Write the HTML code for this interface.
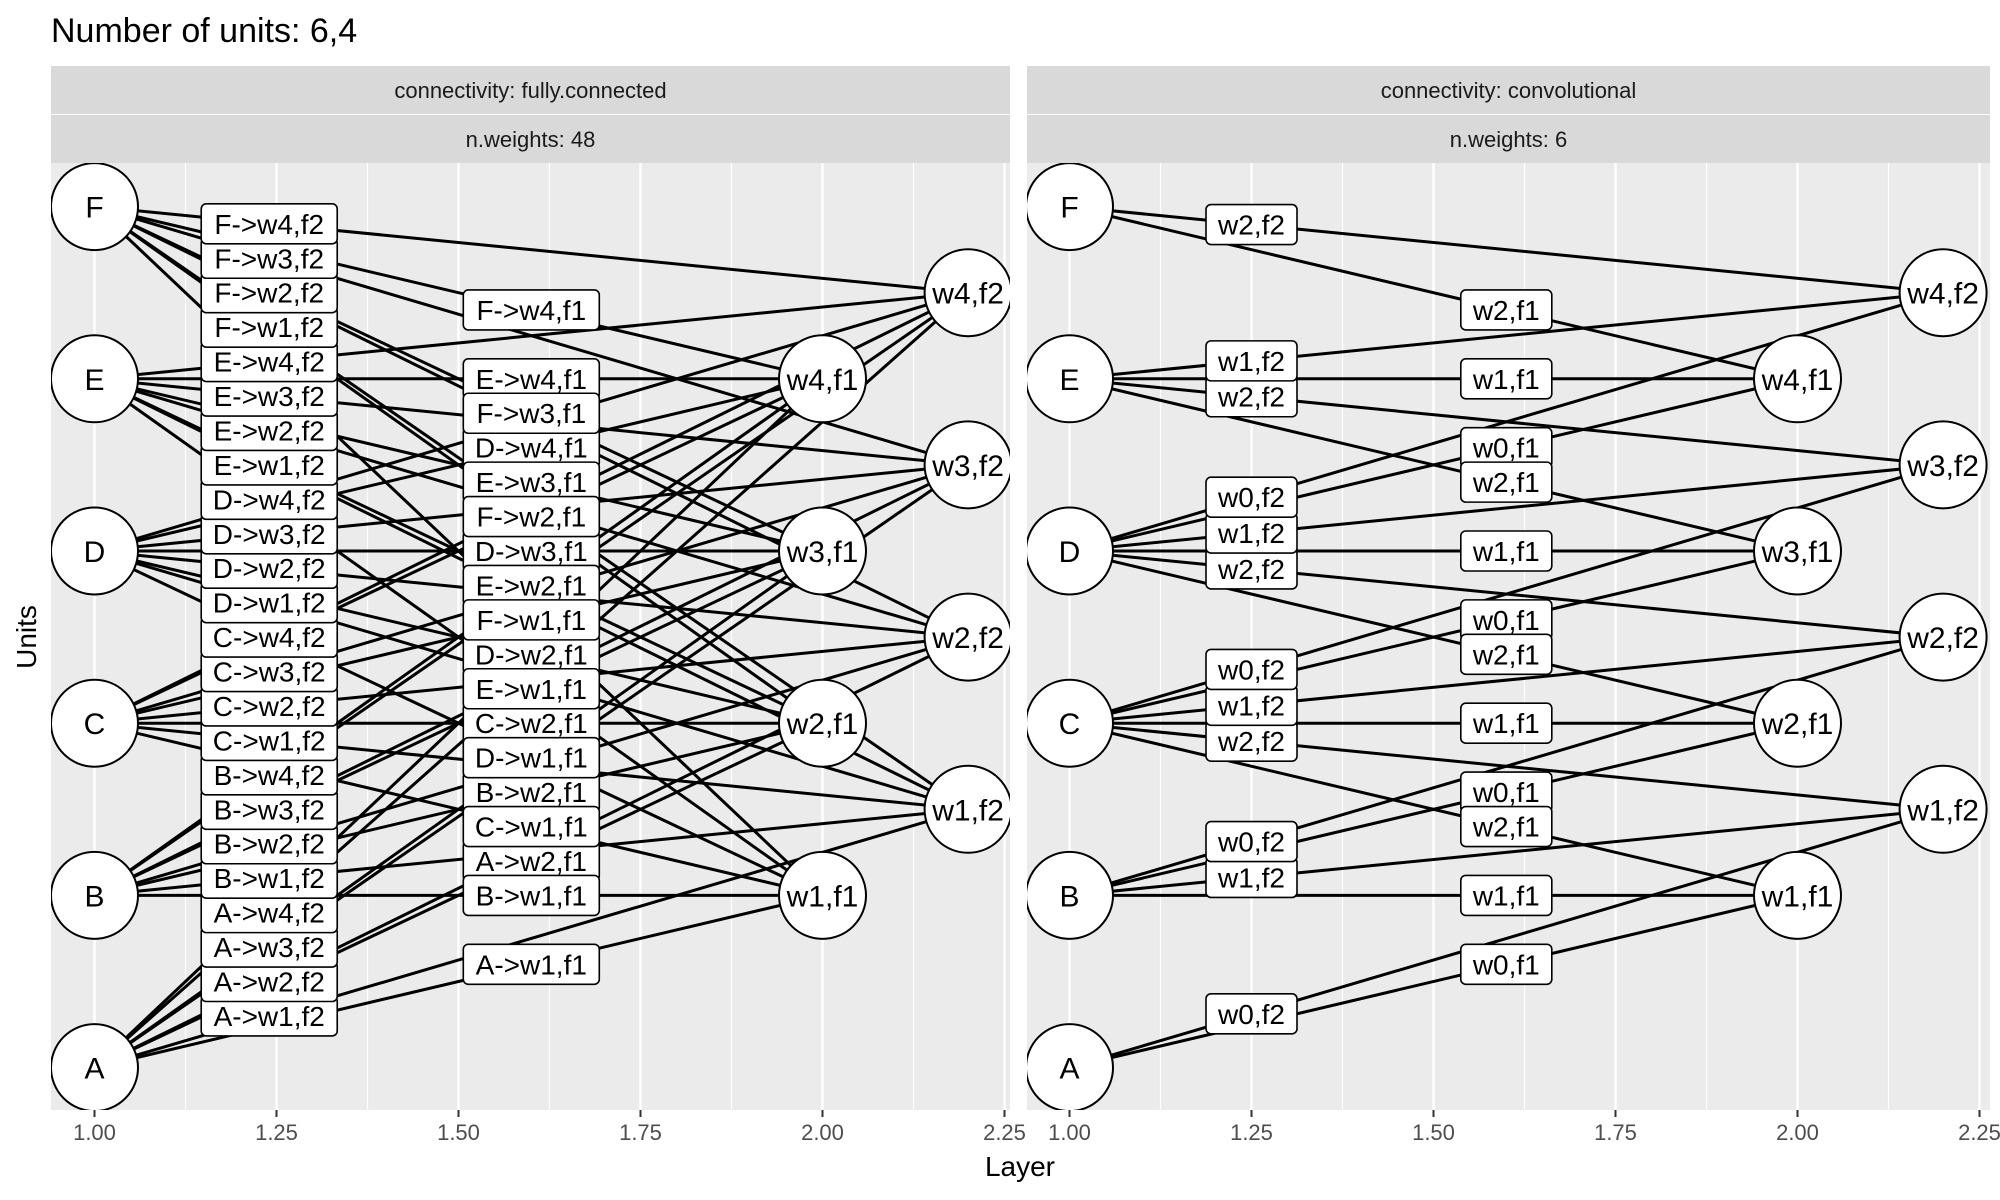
<!DOCTYPE html>
<html><head><meta charset="utf-8"><style>
html,body{margin:0;padding:0;background:#fff;}
svg{display:block;font-family:"Liberation Sans",sans-serif;}
</style></head><body>
<svg id="chart" width="2000" height="1200" viewBox="0 0 2000 1200" xmlns="http://www.w3.org/2000/svg">
<text x="51" y="42" font-size="34" fill="#000">Number of units: 6,4</text>
<g id="panels"></g>
<text x="1020" y="1176" font-size="28" text-anchor="middle" fill="#000">Layer</text>
<text transform="translate(36,637) rotate(-90)" font-size="28" text-anchor="middle" fill="#000">Units</text>
</svg>
<script>
// ---- data ----
const inputUnits = ["A","B","C","D","E","F"];          // y = 1..6
const hiddenUnits = ["w1","w2","w3","w4"];             // f1 at y=2..5, f2 at y=2.5..5.5
const f1X = 2.0;
const f2X = 2.2;
const f1Offset = 1;
const f2Offset = 1.5;
const xTicks = [1.00,1.25,1.50,1.75,2.00,2.25];
const xTickLabels = ["1.00","1.25","1.50","1.75","2.00","2.25"];
const xMinor = [1.125,1.375,1.625,1.875,2.125];
const panelStrips = ["connectivity: fully.connected","connectivity: convolutional"];
const panelWeights = ["n.weights: 48","n.weights: 6"];
const hiddenLabelsFC = ["A->w3,f1","A->w4,f1","B->w3,f1","B->w4,f1","C->w3,f1","C->w4,f1"];
const convWeights = ["w0","w1","w2"];
const labelXf1 = 1.6;
const labelXf2FC = 1.24;
const labelXf2Conv = 1.25;

// ---- layout ----
const NS="http://www.w3.org/2000/svg";
const panels=[{x0:94.5,left:51,right:1010},{x0:1069.5,left:1027,right:1990}];
const panelTop=163,panelBottom=1110;
function xs(p,v){return p.x0+(v-1)*728;}
function ys(v){return 1067.6-(v-1)*172.2;}
function mk(tag,attrs,parent){const e=document.createElementNS(NS,tag);for(const k in attrs)e.setAttribute(k,attrs[k]);parent.appendChild(e);return e;}
const root=document.getElementById('panels');

function buildEdges(pi){
  const edges=[];
  inputUnits.forEach((u,i)=>{
    const yi=i+1;
    hiddenUnits.forEach((h,j)=>{
      const y1=j+1+f1Offset, y2=j+1+f2Offset;
      if(pi===0){
        edges.push({from:yi,toX:f1X,toY:y1,label:u+"->"+h+",f1",lx:labelXf1,show:!hiddenLabelsFC.includes(u+"->"+h+",f1")});
        edges.push({from:yi,toX:f2X,toY:y2,label:u+"->"+h+",f2",lx:labelXf2FC,show:true});
      } else {
        const k=(i+1)-(j+1);
        if(k>=0&&k<=2){
          edges.push({from:yi,toX:f1X,toY:y1,label:convWeights[k]+",f1",lx:labelXf1,show:true});
          edges.push({from:yi,toX:f2X,toY:y2,label:convWeights[k]+",f2",lx:labelXf2Conv,show:true});
        }
      }
    });
  });
  return edges;
}

panels.forEach((p,pi)=>{
  const g=mk('g',{},root);
  
  
  const w=p.right-p.left;
  const s1=mk('rect',{x:p.left,y:66,width:w,height:48,fill:'#D9D9D9'},g);
  
  
  const s2=mk('rect',{x:p.left,y:115,width:w,height:48,fill:'#D9D9D9'},g);
  
  
  const t1=mk('text',{x:p.left+w/2,y:98,'font-size':22,'text-anchor':'middle',fill:'#1A1A1A'},g);
  t1.textContent=panelStrips[pi];
  
  
  const t2=mk('text',{x:p.left+w/2,y:147,'font-size':22,'text-anchor':'middle',fill:'#1A1A1A'},g);
  t2.textContent=panelWeights[pi];
  
  
  const bg=mk('rect',{x:p.left,y:panelTop,width:w,height:panelBottom-panelTop,fill:'#EBEBEB'},g);
  
  
  const clipId='clip'+pi;
  const cp=mk('clipPath',{id:clipId},g);mk('rect',{x:p.left,y:panelTop,width:w,height:panelBottom-panelTop},cp);
  const inner=mk('g',{'clip-path':'url(#'+clipId+')'},g);
  xMinor.forEach(v=>{const l=mk('line',{x1:xs(p,v),x2:xs(p,v),y1:panelTop,y2:panelBottom,stroke:'#fff','stroke-width':1.2},inner);
    
    });
  xTicks.forEach(v=>{const l=mk('line',{x1:xs(p,v),x2:xs(p,v),y1:panelTop,y2:panelBottom,stroke:'#fff','stroke-width':2.4},inner);
    
    });
  const edges=buildEdges(pi);
  edges.forEach(e=>{const l=mk('line',{x1:xs(p,1),y1:ys(e.from),x2:xs(p,e.toX),y2:ys(e.toY),stroke:'#000','stroke-width':3},inner);
    
    });
  edges.forEach(e=>{
    if(!e.show)return;
    const ly=ys(e.from)+(ys(e.toY)-ys(e.from))*((e.lx-1)/(e.toX-1));
    const cx=xs(p,e.lx);
    const lg=mk('g',{},inner);
    
    
    const tw=e.label.length*15+2;
    mk('rect',{x:cx-tw/2-7,y:ly-20,width:tw+14,height:40,rx:5,fill:'#fff',stroke:'#000','stroke-width':1.6},lg);
    const t=mk('text',{x:cx,y:ly+10,'font-size':28,'text-anchor':'middle',fill:'#000'},lg);
    t.textContent=e.label;
  });
  const nodes=[];
  inputUnits.forEach((u,i)=>nodes.push({x:1,y:i+1,t:u}));
  hiddenUnits.forEach((h,j)=>{nodes.push({x:f1X,y:j+1+f1Offset,t:h+",f1"});nodes.push({x:f2X,y:j+1+f2Offset,t:h+",f2"});});
  nodes.forEach(n=>{
    const ng=mk('g',{},inner);
    
    
    mk('circle',{cx:xs(p,n.x),cy:ys(n.y),r:43.5,fill:'#fff',stroke:'#000','stroke-width':2},ng);
    const t=mk('text',{x:xs(p,n.x),y:ys(n.y)+11,'font-size':30,'text-anchor':'middle',fill:'#000'},ng);
    t.textContent=n.t;
  });
  xTicks.forEach((v,k)=>{
    const l=mk('line',{x1:xs(p,v),x2:xs(p,v),y1:panelBottom,y2:panelBottom+7,stroke:'#333','stroke-width':2},g);
    
    
    const t=mk('text',{x:xs(p,v),y:panelBottom+30,'font-size':22,'text-anchor':'middle',fill:'#4D4D4D'},g);
    t.textContent=xTickLabels[k];
    
    
  });
});
</script>
</body></html>
